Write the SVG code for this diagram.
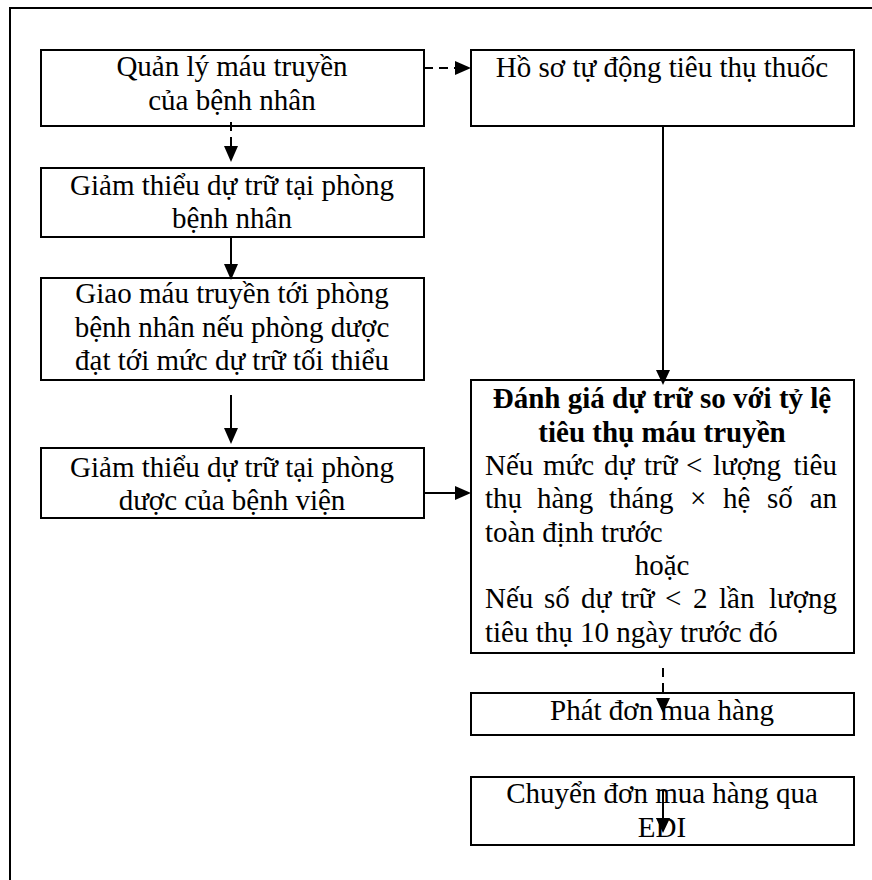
<svg xmlns="http://www.w3.org/2000/svg" width="872" height="880" viewBox="0 0 872 880">
<style>
  .box { fill: #fff; stroke: #000; stroke-width: 2; }
  .t { font-family: "Liberation Serif", "Times New Roman", "DejaVu Serif", serif; font-size: 29px; fill: #000; }
  .c { text-anchor: middle; }
  .e { text-anchor: end; }
  .b { font-weight: bold; }
  .ln { stroke: #000; stroke-width: 2; fill: none; }
  .dash { stroke-dasharray: 9 6; }
  .ah { fill: #000; }
</style>
<rect x="0" y="0" width="872" height="880" fill="#fff"/>
<path d="M10,880 V8 H872" fill="none" stroke="#000" stroke-width="2"/>

<g id="n1">
  <rect class="box" x="41" y="50" width="383" height="76"/>
  <text class="t c" x="232" y="76">Quản lý máu truyền</text>
  <text class="t c" x="232" y="110">của bệnh nhân</text>
</g>
<g id="n2">
  <rect class="box" x="471" y="50" width="383" height="76"/>
  <text class="t c" x="662" y="77">Hồ sơ tự động tiêu thụ thuốc</text>
</g>
<g id="n3">
  <rect class="box" x="41" y="168" width="383" height="69"/>
  <text class="t c" x="232" y="195">Giảm thiểu dự trữ tại phòng</text>
  <text class="t c" x="232" y="228">bệnh nhân</text>
</g>
<g id="n4">
  <rect class="box" x="41" y="278" width="383" height="102"/>
  <text class="t c" x="232" y="303">Giao máu truyền tới phòng</text>
  <text class="t c" x="232" y="337">bệnh nhân nếu phòng dược</text>
  <text class="t c" x="232" y="370">đạt tới mức dự trữ tối thiểu</text>
</g>
<g id="n5">
  <rect class="box" x="41" y="448" width="383" height="70"/>
  <text class="t c" x="232" y="477">Giảm thiểu dự trữ tại phòng</text>
  <text class="t c" x="232" y="510">dược của bệnh viện</text>
</g>
<g id="n6">
  <rect class="box" x="471" y="380" width="383" height="273"/>
  <text class="t c b" x="662" y="408">Đánh giá dự trữ so với tỷ lệ</text>
  <text class="t c b" x="662" y="442">tiêu thụ máu truyền</text>
  <text class="t" y="475"><tspan x="485">Nếu</tspan><tspan x="543">mức</tspan><tspan x="604">dự</tspan><tspan x="644">trữ</tspan><tspan x="686">&lt;</tspan><tspan x="713">lượng</tspan></text>
  <text class="t e" x="837" y="475">tiêu</text>
  <text class="t" y="508"><tspan x="485">thụ</tspan><tspan x="537">hàng</tspan><tspan x="609">tháng</tspan><tspan x="690">×</tspan><tspan x="723">hệ</tspan><tspan x="767">số</tspan></text>
  <text class="t e" x="837" y="508">an</text>
  <text class="t" x="485" y="542">toàn định trước</text>
  <text class="t c" x="662" y="575">hoặc</text>
  <text class="t" y="608"><tspan x="485">Nếu</tspan><tspan x="544">số</tspan><tspan x="581">dự</tspan><tspan x="621">trữ</tspan><tspan x="665">&lt;</tspan><tspan x="693">2</tspan><tspan x="719">lần</tspan></text>
  <text class="t e" x="837" y="608">lượng</text>
  <text class="t" x="485" y="642">tiêu thụ 10 ngày trước đó</text>
</g>
<g id="n7">
  <rect class="box" x="471" y="693" width="383" height="42"/>
  <text class="t c" x="662" y="720">Phát đơn mua hàng</text>
</g>
<g id="n8">
  <rect class="box" x="471" y="777" width="383" height="68"/>
  <text class="t c" x="662" y="803">Chuyển đơn mua hàng qua</text>
  <text class="t c" x="662" y="837">EDI</text>
</g>

<g id="connectors">
  <line class="ln dash" x1="424" y1="68" x2="455" y2="68"/>
  <polygon class="ah" points="455,61 471,68 455,75"/>
  <line class="ln dash" x1="231" y1="122" x2="231" y2="146"/>
  <polygon class="ah" points="224,146 238,146 231,162"/>
  <line class="ln" x1="231" y1="237" x2="231" y2="264"/>
  <polygon class="ah" points="224,264 238,264 231,280"/>
  <line class="ln" x1="231" y1="395" x2="231" y2="428"/>
  <polygon class="ah" points="224,428 238,428 231,444"/>
  <line class="ln" x1="424" y1="493" x2="455" y2="493"/>
  <polygon class="ah" points="455,486 471,493 455,500"/>
  <line class="ln" x1="663" y1="126" x2="663" y2="370"/>
  <polygon class="ah" points="656,370 670,370 663,385"/>
  <line class="ln dash" x1="663" y1="668" x2="663" y2="698"/>
  <polygon class="ah" points="656,698 670,698 663,713"/>
  <line class="ln" x1="663" y1="790" x2="663" y2="818"/>
  <polygon class="ah" points="656,818 670,818 663,833"/>
</g>
</svg>
